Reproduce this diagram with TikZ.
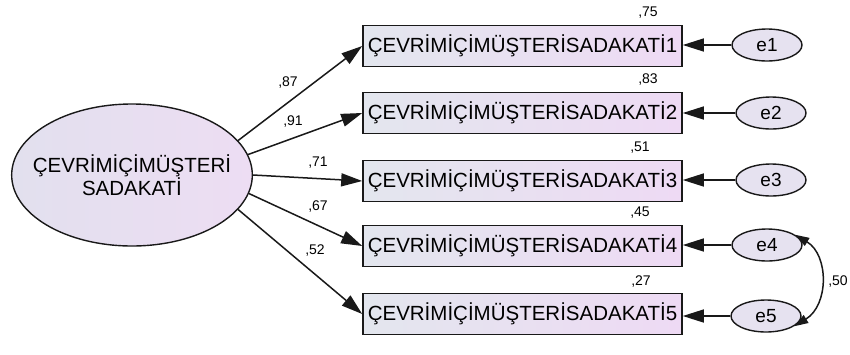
\documentclass[tikz,border=0pt]{standalone}
\usepackage{fontspec}
\setmainfont{Liberation Sans}
\usetikzlibrary{arrows.meta,shapes.geometric}
\definecolor{boxleft}{HTML}{E3E6EE}
\definecolor{boxright}{HTML}{EEDAF4}
\definecolor{latleft}{HTML}{E2E0EE}
\definecolor{latright}{HTML}{EDDDF3}
\definecolor{errfill}{HTML}{E6E2F0}
\begin{document}
\begin{tikzpicture}[x=1pt,y=1pt,
  indicator/.style={draw=black!90, line width=1.6pt, minimum width=319pt,
    minimum height=41pt, inner sep=0pt, left color=boxleft, right color=boxright,
    font=\fontsize{20.5}{24}\selectfont},
  latent/.style={ellipse, draw=black!90, line width=1.4pt, minimum width=240pt,
    minimum height=142pt, inner xsep=-14pt, inner ysep=0pt,
    left color=latleft, right color=latright,
    align=center, font=\fontsize{20.5}{20}\selectfont},
  errvar/.style={ellipse, draw=black!90, line width=1.4pt, minimum width=70pt,
    minimum height=32pt, inner sep=0pt, fill=errfill,
    font=\fontsize{19}{22}\selectfont},
  regpath/.style={line width=1.5pt, draw=black!90,
    -{Triangle[length=21pt,width=13pt]}},
  covpath/.style={line width=1.5pt, draw=black!90,
    {Triangle[length=14pt,width=9pt]}-{Triangle[length=14pt,width=9pt]}},
  est/.style={font=\fontsize{14}{16}\selectfont, inner sep=0pt}]
\useasboundingbox (0,0) rectangle (850,-354);

% latent factor
\node[latent] (f) at (132,-175) {ÇEVRİMİÇİMÜŞTERİ\\SADAKATİ};

% observed indicators
\node[indicator] (b1) at (522.5,-46)  {ÇEVRİMİÇİMÜŞTERİSADAKATİ1};
\node[indicator] (b2) at (522.5,-113) {ÇEVRİMİÇİMÜŞTERİSADAKATİ2};
\node[indicator] (b3) at (522.5,-181) {ÇEVRİMİÇİMÜŞTERİSADAKATİ3};
\node[indicator] (b4) at (522.5,-246) {ÇEVRİMİÇİMÜŞTERİSADAKATİ4};
\node[indicator] (b5) at (522.5,-314) {ÇEVRİMİÇİMÜŞTERİSADAKATİ5};

% error terms
\node[errvar] (e1) at (767,-45)  {e1};
\node[errvar] (e2) at (771,-113) {e2};
\node[errvar] (e3) at (771,-180) {e3};
\node[errvar] (e4) at (767,-245) {e4};
\node[errvar] (e5) at (766,-316) {e5};

% factor loadings
\draw[regpath] (f.18)  -- (b1.west);
\draw[regpath] (f.10)  -- (b2.west);
\draw[regpath] (f.0)   -- (b3.west);
\draw[regpath] (f.-9)  -- (b4.west);
\draw[regpath] (f.-18) -- (b5.west);

% error paths
\foreach \i in {1,...,5}
  \draw[regpath] (e\i.west) -- (b\i.east |- e\i.west);

% error covariance
\draw[covpath] (e4.20) .. controls (829,-255) and (829,-305) .. (e5.-20);

% standardized estimates
\node[est] (l1) at (288,-83)  {,87};
\node[est] (l2) at (293,-122) {,91};
\node[est] (l3) at (318,-163) {,71};
\node[est] (l4) at (318,-207) {,67};
\node[est] (l5) at (315,-250) {,52};

\node[est] (r1) at (648,-13)  {,75};
\node[est] (r2) at (648,-80)  {,83};
\node[est] (r3) at (640,-148) {,51};
\node[est] (r4) at (640,-213) {,45};
\node[est] (r5) at (641,-282) {,27};

\node[est] (c45) at (838,-282) {,50};
\end{tikzpicture}
\end{document}
